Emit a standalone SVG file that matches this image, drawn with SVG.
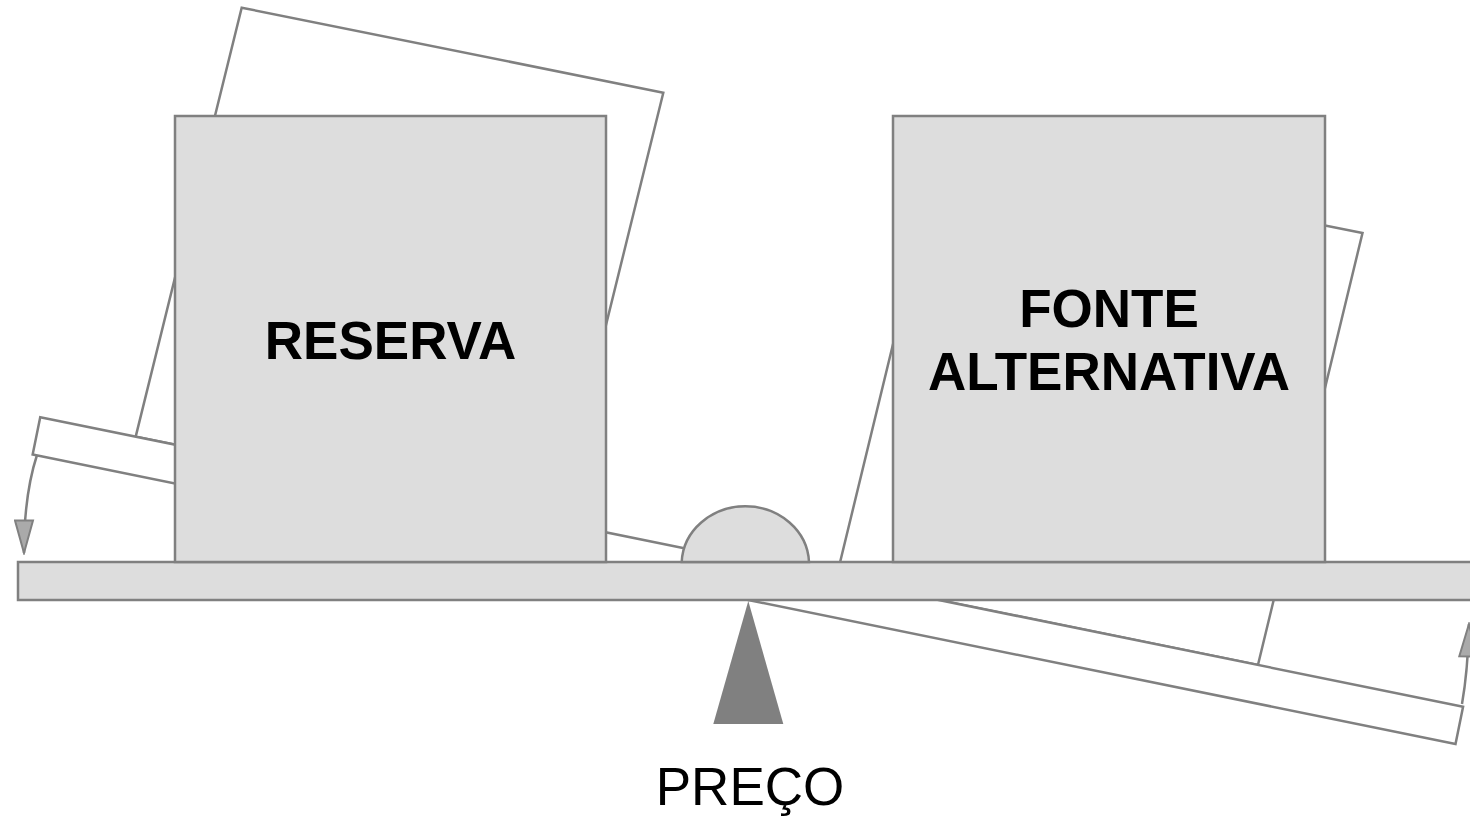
<svg xmlns="http://www.w3.org/2000/svg" width="1470" height="818" viewBox="0 0 1470 818">
<style>
.ghost{fill:#ffffff;stroke:#808080;stroke-width:2.5;stroke-linejoin:miter}
.solid{fill:#dddddd;stroke:#808080;stroke-width:2.5}
.lbl{font-family:"Liberation Sans",Arial,sans-serif;font-size:53px;fill:#000000;text-anchor:middle}
.bold{font-weight:bold}
.arc{fill:none;stroke:#808080;stroke-width:2.5}
</style>
<defs>
<marker id="ah" viewBox="0 0 36 21" refX="34" refY="10.5" markerWidth="36" markerHeight="21" markerUnits="userSpaceOnUse" orient="auto">
<path d="M1.5,1.5 L34,10.5 L1.5,19.5 Z" fill="#aaaaaa" stroke="#808080" stroke-width="2"/>
</marker>
</defs>
<rect width="1470" height="818" fill="#ffffff"/>
<g id="tilted-reserva">
<polygon class="ghost" points="241.7,7.7 663.3,92.7 557.3,522.4 135.7,436.6"/>
</g>
<g id="tilted-fonte">
<polygon class="ghost" points="940.4,149 1362.5,233 1258,664.9 836,579"/>
</g>
<g id="tilted-beam">
<rect class="ghost" x="18" y="562" width="1452" height="38" transform="rotate(11.5 748 600)"/>
</g>
<g id="connectors">
<path class="arc" d="M37,455 Q24,495 24,553" marker-end="url(#ah)"/>
<path class="arc" d="M1462,704 Q1468,670 1469,624" marker-end="url(#ah)"/>
</g>
<g id="beam">
<rect class="solid" x="18" y="562" width="1460" height="38"/>
</g>
<g id="reserva">
<rect class="solid" x="175" y="116" width="431" height="446"/>
<text class="lbl bold" x="390.5" y="359">RESERVA</text>
</g>
<g id="fonte-alternativa">
<rect class="solid" x="893" y="116" width="432" height="446"/>
<text class="lbl bold" x="1109" y="327">FONTE</text>
<text class="lbl bold" x="1109" y="390">ALTERNATIVA</text>
</g>
<g id="weight">
<path class="solid" d="M681.7,562 A63.7,58 0 0 1 809,562 Z"/>
</g>
<g id="fulcrum">
<polygon points="748.3,601 713.3,724 783.3,724" fill="#808080"/>
<text class="lbl" x="750" y="805">PREÇO</text>
</g>
</svg>
